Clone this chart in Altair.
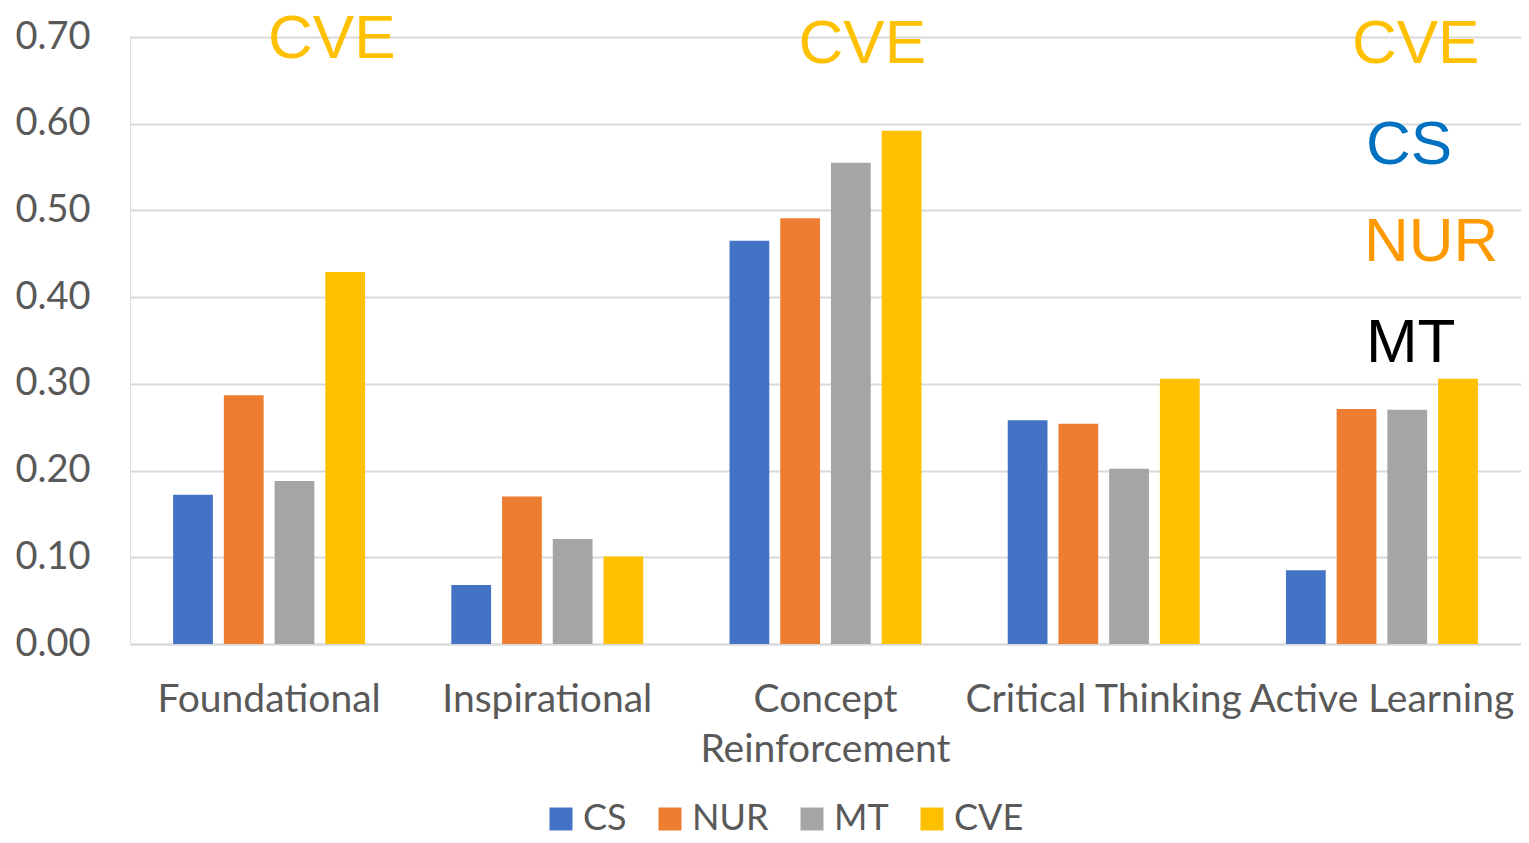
import altair as alt
import pandas as pd

categories = ["Foundational", "Inspirational", "Concept Reinforcement", "Critical Thinking", "Active Learning"]
series = ["CS", "NUR", "MT", "CVE"]
cs = [0.172, 0.068, 0.465, 0.258, 0.085]
nur = [0.287, 0.170, 0.491, 0.254, 0.271]
mt = [0.188, 0.121, 0.555, 0.202, 0.270]
cve = [0.429, 0.101, 0.592, 0.306, 0.306]
y_ticks = [0.0, 0.1, 0.2, 0.3, 0.4, 0.5, 0.6, 0.7]

ann_labels = ["CVE", "CVE", "CVE", "CS", "NUR", "MT"]
ann_cats = ["Foundational", "Concept Reinforcement", "Active Learning", "Active Learning", "Active Learning", "Active Learning"]
ann_vals = [0.698, 0.692, 0.692, 0.575, 0.464, 0.347]

# styles (kept apart from data)
series_colors = ["#4472C4", "#ED7D31", "#A5A5A5", "#FFC000"]
ann_colors = ["#FFC000", "#FFC000", "#FFC000", "#0070C0", "#FF9900", "#000000"]
ann_dx = [-1, -27, -30, -16, -18, -16]

rows = []
for name, vals in zip(series, [cs, nur, mt, cve]):
    for c, v in zip(categories, vals):
        rows.append({"category": c, "series": name, "value": v})
df = pd.DataFrame(rows)

FONT = "Lato"
TXT = "#595959"

x_enc = alt.X(
    "category:N",
    sort=categories,
    scale=alt.Scale(paddingInner=0.31, paddingOuter=0.155),
    axis=alt.Axis(
        title=None,
        labelAngle=0,
        labelFont=FONT,
        labelFontSize=39,
        labelColor=TXT,
        labelPadding=36,
        labelLineHeight=50,
        labelExpr="datum.label == 'Concept Reinforcement' ? ['Concept', 'Reinforcement'] : datum.label",
        ticks=False,
        domain=True,
        domainColor="#D9D9D9",
        domainWidth=2,
        grid=False,
        labelLimit=400,
    ),
)

y_scale = alt.Scale(domain=[0, 0.7], nice=False)

bars = alt.Chart(df).mark_bar().encode(
    x=x_enc,
    xOffset=alt.XOffset("series:N", sort=series, scale=alt.Scale(paddingInner=0.216, paddingOuter=0)),
    y=alt.Y(
        "value:Q",
        scale=y_scale,
        axis=alt.Axis(
            title=None,
            values=y_ticks,
            format=".2f",
            labelFont=FONT,
            labelFontSize=38,
            labelColor=TXT,
            labelPadding=40,
            ticks=False,
            domain=False,
            gridColor="#D9D9D9",
            gridWidth=2,
        ),
    ),
    color=alt.Color(
        "series:N",
        sort=series,
        scale=alt.Scale(domain=series, range=series_colors),
        legend=alt.Legend(
            title=None,
            orient="none",
            direction="horizontal",
            legendX=413,
            legendY=764,
            symbolType="square",
            symbolSize=529,
            symbolStrokeWidth=0,
            labelFont=FONT,
            labelFontSize=36,
            labelColor=TXT,
            labelOffset=4,
            columnPadding=25,
        ),
    ),
)

layers = [bars]
for lab, cat, val, col, dx in zip(ann_labels, ann_cats, ann_vals, ann_colors, ann_dx):
    adf = pd.DataFrame({"category": [cat], "value": [val], "label": [lab]})
    t = alt.Chart(adf).mark_text(
        font="Liberation Sans",
        fontSize=62,
        align="left",
        baseline="middle",
        color=col,
        dx=dx,
    ).encode(
        x=alt.X("category:N", sort=categories),
        y=alt.Y("value:Q", scale=y_scale),
        text="label:N",
    )
    layers.append(t)

chart = alt.layer(*layers).properties(
    width=1391,
    height=607,
    autosize=alt.AutoSizeParams(type="none"),
    padding={"left": 122, "top": 29, "right": 0, "bottom": 191},
).configure_view(stroke=None).configure(background="white")

chart.save("out.html", embed_options={"renderer": "svg", "actions": False})
